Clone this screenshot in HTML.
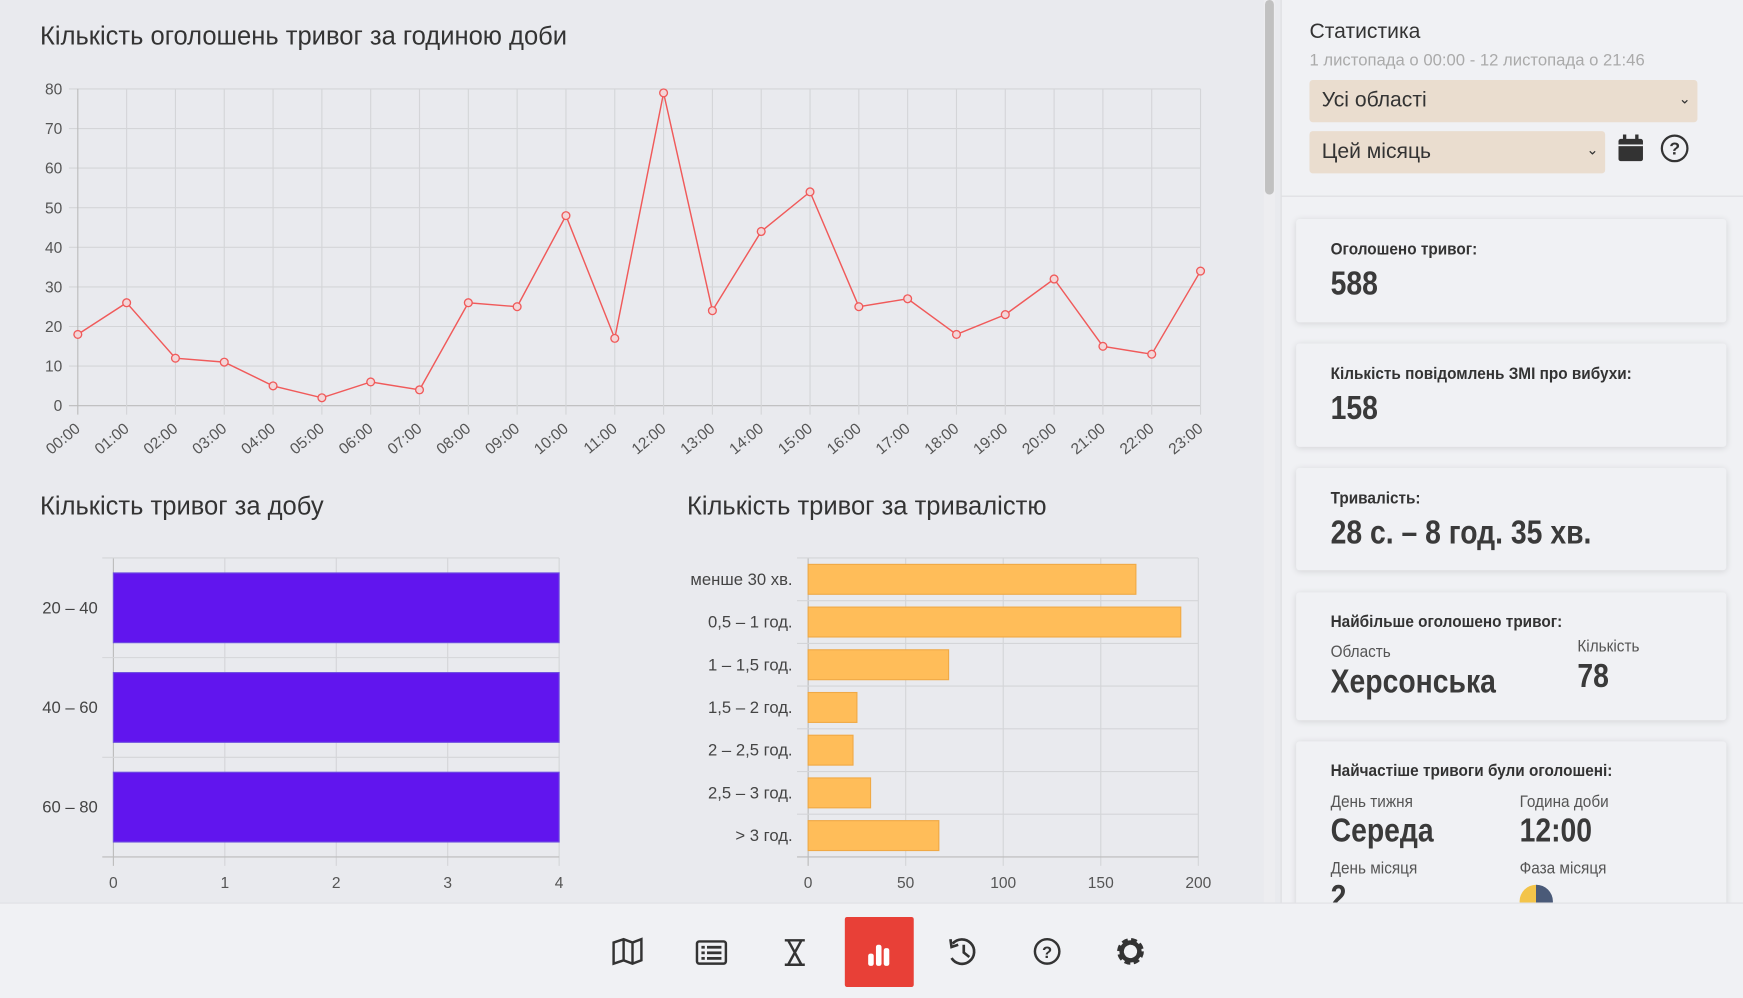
<!DOCTYPE html>
<html><head><meta charset="utf-8">
<style>
html,body{margin:0;padding:0;width:1743px;height:997px;overflow:hidden;background:#e9eaee;}
#wrap{position:absolute;left:0;top:0;width:1568px;height:897px;transform-origin:0 0;transform:scale(1.11161,1.11148);font-family:"Liberation Sans Narrow","Liberation Sans",sans-serif;color:#333;}
.abs{position:absolute;}
.card{position:absolute;left:1166px;width:387px;background:#f0f1f4;border-radius:3px;box-shadow:0 1px 6px rgba(0,0,0,0.12);}
.lbl{position:absolute;left:31px;font-size:15px;font-weight:bold;color:#333;transform:scaleX(0.92);transform-origin:0 0;white-space:nowrap;}
.val{position:absolute;left:31px;font-size:30px;font-weight:bold;color:#3a3a3a;transform:scaleX(0.85);transform-origin:0 0;white-space:nowrap;}
.sub{position:absolute;font-size:15px;color:#555;transform:scaleX(0.92);transform-origin:0 0;white-space:nowrap;}
</style></head>
<body>
<div id="wrap">
<div class="abs" style="left:0;top:0;width:1135px;height:812px;background:#e9eaee"></div>
<div class="abs" style="left:1137px;top:0;width:10px;height:812px;background:#ededf0"><div style="margin-left:1px;width:8px;height:175px;background:#c1c1c1;border-radius:4px"></div></div>
<div class="abs" style="left:1152px;top:0;width:416px;height:812px;background:#f0f1f4;border-left:1px solid #dcdde0"></div>

<svg class="abs" style="left:0;top:0" width="1135" height="812" id="charts">
<text x="36" y="40" font-size="23" fill="#333">Кількість оголошень тривог за годиною доби</text>
<g id="line"></g>
<text x="36" y="463" font-size="23" fill="#333">Кількість тривог за добу</text>
<g id="bar1"></g>
<text x="618" y="463" font-size="23" fill="#333">Кількість тривог за тривалістю</text>
<g id="bar2"></g>
</svg>

<div class="abs" style="left:1178px;top:18px;font-size:19px;color:#333">Статистика</div>
<div class="abs" style="left:1178px;top:46px;font-size:15px;color:#aaa">1 листопада о 00:00 - 12 листопада о 21:46</div>
<div class="abs" style="left:1178px;top:72px;width:349px;height:38px;background:#eaddcf;border-radius:3px"><span style="position:absolute;left:11px;top:8px;font-size:19px;color:#333">Усі області</span><span style="position:absolute;right:6px;top:9px;font-size:13px;color:#333">&#8964;</span></div>
<div class="abs" style="left:1178px;top:118px;width:266px;height:38px;background:#eaddcf;border-radius:3px"><span style="position:absolute;left:11px;top:8px;font-size:19px;color:#333">Цей місяць</span><span style="position:absolute;right:6px;top:9px;font-size:13px;color:#333">&#8964;</span></div>
<svg class="abs" style="left:1455px;top:121px" width="24" height="26"><rect x="5" y="0" width="3" height="6" fill="#333"/><rect x="16" y="0" width="3" height="6" fill="#333"/><rect x="1" y="4" width="22" height="20" rx="2" fill="#333"/><rect x="1" y="9" width="22" height="1.5" fill="#f0f1f4"/></svg>
<svg class="abs" style="left:1493px;top:120px" width="27" height="27"><circle cx="13.5" cy="13.5" r="11.5" fill="none" stroke="#333" stroke-width="2"/><text x="13.5" y="19" font-size="16" font-weight="bold" text-anchor="middle" fill="#333" font-family="Liberation Sans">?</text></svg>
<div class="abs" style="left:1153px;top:176px;width:415px;height:1px;background:#dcdde0"></div>

<div class="card" style="top:197px;height:93px"><div class="lbl" style="top:19px">Оголошено тривог:</div><div class="val" style="top:42px">588</div></div>
<div class="card" style="top:309px;height:93px"><div class="lbl" style="top:19px">Кількість повідомлень ЗМІ про вибухи:</div><div class="val" style="top:42px">158</div></div>
<div class="card" style="top:421px;height:92px"><div class="lbl" style="top:19px">Тривалість:</div><div class="val" style="top:42px">28 с. – 8 год. 35 хв.</div></div>
<div class="card" style="top:533px;height:115px"><div class="lbl" style="top:18px">Найбільше оголошено тривог:</div><div class="sub" style="left:31px;top:45px">Область</div><div class="val" style="top:64px">Херсонська</div><div class="sub" style="left:253px;top:40px">Кількість</div><div class="val" style="left:253px;top:59px">78</div></div>
<div class="card" style="top:667px;height:160px;overflow:hidden"><div class="lbl" style="top:18px">Найчастіше тривоги були оголошені:</div><div class="sub" style="left:31px;top:46px">День тижня</div><div class="val" style="top:64px">Середа</div><div class="sub" style="left:201px;top:46px">Година доби</div><div class="val" style="left:201px;top:64px">12:00</div><div class="sub" style="left:31px;top:106px">День місяця</div><div class="val" style="top:124px">2</div><div class="sub" style="left:201px;top:106px">Фаза місяця</div><div style="position:absolute;left:201px;top:129px;width:30px;height:30px;border-radius:50%;background:linear-gradient(90deg,#f3c44a 50%,#4a5a78 50%)"></div></div>

<div class="abs" style="left:0;top:812px;width:1568px;height:85px;background:#f0f1f4;border-top:1px solid #e0e1e4"></div>
<svg class="abs" style="left:0;top:812px" width="1568" height="85">
<g fill="none" stroke="#333" stroke-width="2.2"><path d="M552 36 L561 33 L569 36 L577 33 L577 52 L569 55 L561 52 L552 55 Z M561 33 L561 52 M569 36 L569 55"/></g>
<g><rect x="627" y="35" width="26" height="20" rx="2" fill="none" stroke="#333" stroke-width="2.2"/><rect x="631" y="39" width="3" height="2.5" fill="#333"/><rect x="636" y="39" width="13" height="2.5" fill="#333"/><rect x="631" y="44" width="3" height="2.5" fill="#333"/><rect x="636" y="44" width="13" height="2.5" fill="#333"/><rect x="631" y="49" width="3" height="2.5" fill="#333"/><rect x="636" y="49" width="13" height="2.5" fill="#333"/></g>
<g fill="none" stroke="#333" stroke-width="2.2"><path d="M706 34 H724 M706 56 H724 M709 34 L721 56 M721 34 L709 56"/></g>
<g><rect x="760" y="13" width="62" height="63" rx="2" fill="#e84037"/><rect x="781" y="46" width="5" height="11" rx="2" fill="#fff"/><rect x="788" y="38" width="5" height="19" rx="2" fill="#fff"/><rect x="795" y="41" width="5" height="16" rx="2" fill="#fff"/></g>
<g fill="none" stroke="#333" stroke-width="2.4"><path d="M857 37 A11 11 0 1 1 856 50"/><path d="M855 33 L856 40 L862 38" /><path d="M867 38 V45 L872 49"/></g>
<g><circle cx="942" cy="44" r="11" fill="none" stroke="#333" stroke-width="2.2"/><text x="942" y="50" font-size="15" font-weight="bold" text-anchor="middle" fill="#333" font-family="Liberation Sans">?</text></g>
<g><circle cx="1017" cy="44" r="9" fill="none" stroke="#333" stroke-width="6" stroke-dasharray="4.5 2.6"/><circle cx="1017" cy="44" r="8" fill="none" stroke="#333" stroke-width="4"/></g>
</svg>
</div>

<script>
const hours = ["00:00","01:00","02:00","03:00","04:00","05:00","06:00","07:00","08:00","09:00","10:00","11:00","12:00","13:00","14:00","15:00","16:00","17:00","18:00","19:00","20:00","21:00","22:00","23:00"];
const hourlyCounts = [18,26,12,11,5,2,6,4,26,25,48,17,79,24,44,54,25,27,18,23,32,15,13,34];
const hourlyTicks = [0,10,20,30,40,50,60,70,80];
const dayCategories = ["20 – 40","40 – 60","60 – 80"];
const dayValues = [4,4,4];
const dayTicks = [0,1,2,3,4];
const durCategories = ["менше 30 хв.","0,5 – 1 год.","1 – 1,5 год.","1,5 – 2 год.","2 – 2,5 год.","2,5 – 3 год.","> 3 год."];
const durValues = [168,191,72,25,23,32,67];
const durTicks = [0,50,100,150,200];

const NS="http://www.w3.org/2000/svg";
function mk(parent,tag,attrs,text){const e=document.createElementNS(NS,tag);for(const k in attrs)e.setAttribute(k,attrs[k]);if(text!==undefined)e.textContent=text;parent.appendChild(e);return e;}

(function(){
const g=document.getElementById('line');
const x0=70,x1=1080,yb=365,yt=80;
const x=i=>x0+(x1-x0)*i/(hours.length-1);
const y=v=>yb-(yb-yt)*v/80;
hourlyTicks.forEach(t=>{
 const l=mk(g,'line',{x1:62,x2:x1,y1:y(t),y2:y(t),stroke:t===0?'#bbb':'#d4d5d8','stroke-width':1});
 
 
 const tx=mk(g,'text',{x:56,y:y(t)+5,'font-size':14,'text-anchor':'end',fill:'#555'},t);
 
 
});
hours.forEach((h,i)=>{
 const l=mk(g,'line',{x1:x(i),x2:x(i),y1:yt,y2:yb+8,stroke:i===0?'#bbb':'#d4d5d8','stroke-width':1});
 
 
 const tx=mk(g,'text',{x:x(i)+3,y:yb+22,'font-size':14,'text-anchor':'end',fill:'#555',transform:`rotate(-40 ${x(i)+3} ${yb+22})`},h);
 
 
});
const p=mk(g,'polyline',{points:hourlyCounts.map((v,i)=>x(i)+','+y(v)).join(' '),fill:'none',stroke:'#f05a5a','stroke-width':1.3});


hourlyCounts.forEach((v,i)=>{
 const c=mk(g,'circle',{cx:x(i),cy:y(v),r:3.5,fill:'#f3d6d8',stroke:'#f05a5a','stroke-width':1.2});
 
 
});
})();

function hbar(gid,cats,vals,ticks,xa,xb,yt,yb,max,fill,stroke,barFrac,labelX,labelSize){
 const g=document.getElementById(gid);
 const x=v=>xa+(xb-xa)*v/max;
 const band=(yb-yt)/cats.length;
 ticks.forEach(t=>{
  const l=mk(g,'line',{x1:x(t),x2:x(t),y1:yt,y2:yb+8,stroke:t===0?'#bbb':'#d4d5d8'});
  
  
  const tx=mk(g,'text',{x:x(t),y:yb+28,'font-size':14,'text-anchor':'middle',fill:'#555'},t);
  
  
 });
 for(let i=0;i<=cats.length;i++){
  const l=mk(g,'line',{x1:xa-10,x2:xb,y1:yt+band*i,y2:yt+band*i,stroke:i===cats.length?'#bbb':'#d4d5d8'});
  
  
 }
 cats.forEach((c,i)=>{
  const cy=yt+band*(i+0.5), h=band*barFrac;
  const r=mk(g,'rect',{x:x(0),y:cy-h/2,width:x(vals[i])-x(0),height:h,fill:fill,stroke:stroke,'stroke-width':1});
  
  
  const tx=mk(g,'text',{x:labelX,y:cy+5,'font-size':labelSize,'text-anchor':'end',fill:'#444'},c);
  
  
 });
}
hbar('bar1',dayCategories,dayValues,dayTicks,102,503,502,771,4,'#6115ee','#6e4fe0',0.7,88,15);
hbar('bar2',durCategories,durValues,durTicks,727,1078,502,771,200,'#ffbd59','#f0a945',0.7,713,15);
</script>
</body></html>
